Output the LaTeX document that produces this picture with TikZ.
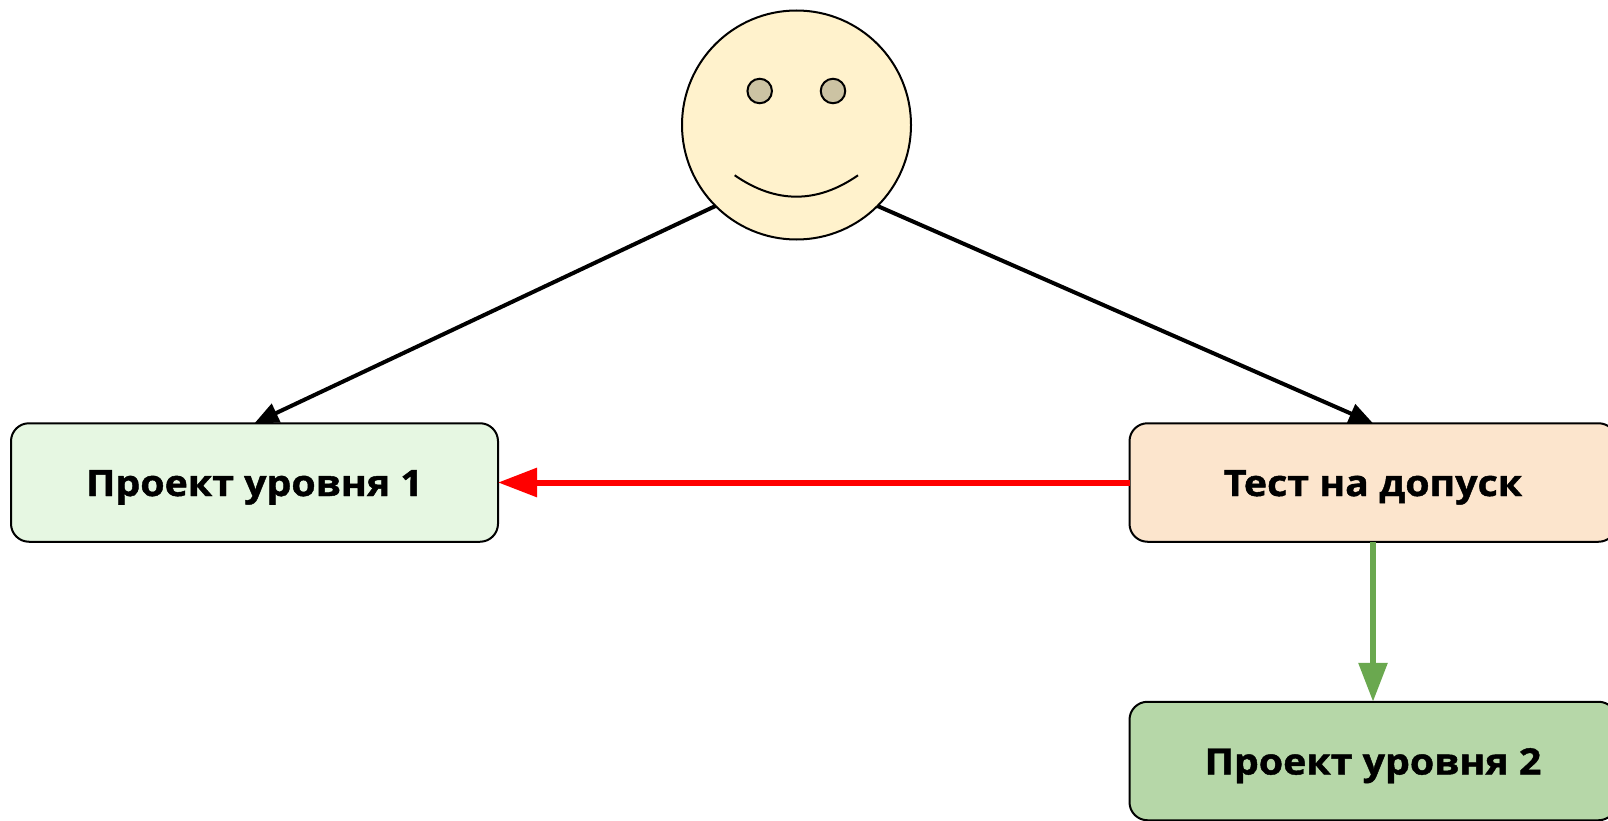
\documentclass[tikz,border=0pt]{standalone}
\usepackage{fontspec}
\setmainfont{Open Sans}
\newfontfamily\labelfont[FakeStretch=1.08,BoldFeatures={FakeBold=1.2}]{Open Sans}
\usetikzlibrary{arrows.meta,backgrounds}
\definecolor{faceFill}{HTML}{FFF2CC}
\definecolor{eyeFill}{HTML}{CCC3A3}
\definecolor{oneFill}{HTML}{E6F7E2}
\definecolor{testFill}{HTML}{FCE5CD}
\definecolor{twoFill}{HTML}{B6D7A8}
\definecolor{goGreen}{HTML}{6AA84F}
\tikzset{
  x=1pt,y=-1pt,
  facebox/.style={circle,draw=black,line width=2pt,fill=faceFill,minimum size=229pt,inner sep=0pt,outer sep=0pt},
  eyedot/.style={circle,draw=black,line width=2pt,fill=eyeFill,minimum size=24.5pt,inner sep=0pt,outer sep=0pt},
  levelbox/.style={draw=black,line width=2pt,rounded corners=18pt,minimum width=487pt,minimum height=118.5pt,inner sep=0pt,outer sep=0pt,
    font=\labelfont\fontsize{36.4}{40}\selectfont\bfseries,text height=27pt,text depth=0pt,align=center},
  blackarrow/.style={draw=black,line width=4pt,-{Triangle[length=24pt,width=20pt]}},
  redarrow/.style={draw=red,line width=6pt,-{Triangle[length=39pt,width=28pt]}},
  greenarrow/.style={draw=goGreen,line width=6pt,-{Triangle[length=39pt,width=28pt]}},
  smileline/.style={draw=black,line width=2pt}
}
\begin{document}
\begin{tikzpicture}
\useasboundingbox (0,0) rectangle (1608,821);
\clip (0,0) rectangle (1608,821);
\node[facebox] (face) at (796.5,125) {};
\node[eyedot] (eyeL) at (759.7,91) {};
\node[eyedot] (eyeR) at (833,91) {};
\draw[smileline] (734.7,175.3) .. controls (775.8,203.8) and (817,203.8) .. (858,175.3);
\node[levelbox,fill=oneFill] (one) at (254.5,482.5) {Проект уровня 1};
\node[levelbox,fill=testFill] (test) at (1373,482.5) {Тест на допуск};
\node[levelbox,fill=twoFill] (two) at (1373,761) {Проект уровня 2};
\begin{scope}[on background layer]
\draw[blackarrow] (face.225) -- (one.north);
\draw[blackarrow] (face.-45) -- (test.north);
\end{scope}
\draw[redarrow] (test.west) -- (one.east);
\draw[greenarrow] (test.south) -- (two.north);
\end{tikzpicture}
\end{document}
